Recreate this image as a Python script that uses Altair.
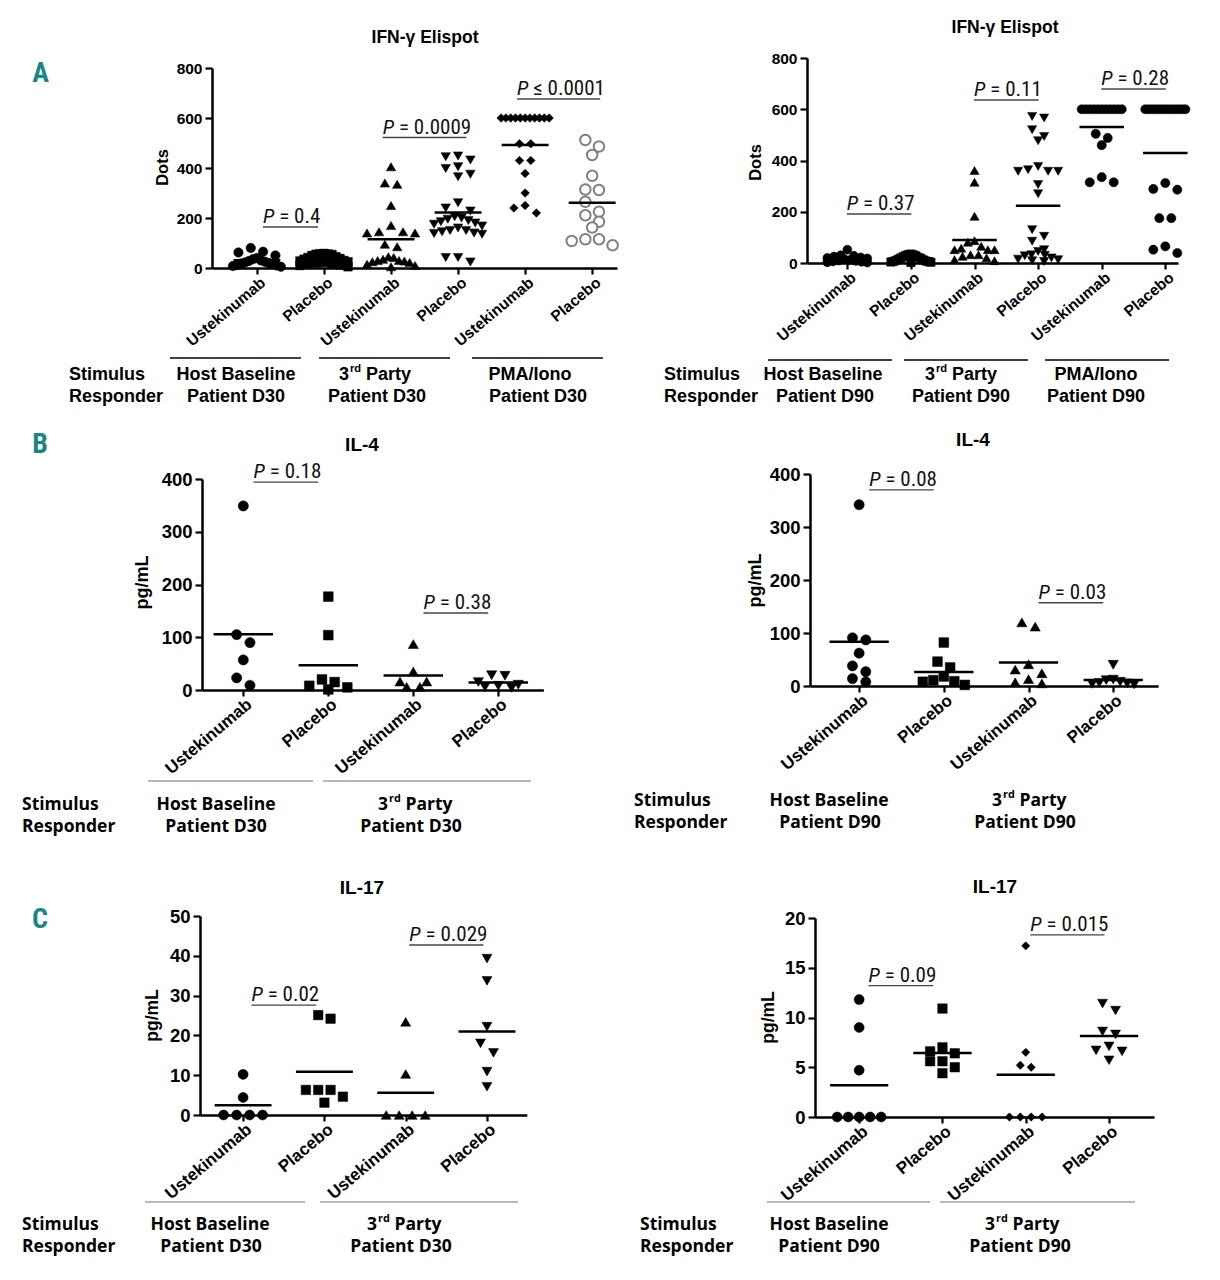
import altair as alt
import pandas as pd

# ---------------- values ----------------
ifn_categories = ["Ustekinumab", "Placebo", "Ustekinumab", "Placebo", "Ustekinumab", "Placebo"]
cyto_categories = ["Ustekinumab", "Placebo", "Ustekinumab", "Placebo"]

# A  IFN-gamma Elispot (Dots), responder Patient D30
ifn_d30_host_ust = [80, 65, 62, 50, 40, 35, 30, 28, 25, 22, 20, 18, 15, 12, 10, 8, 5]
ifn_d30_host_pla = [58, 57, 56, 55, 54, 50, 45, 42, 38, 35, 30, 28, 25, 22, 20, 18, 15, 12, 10, 5]
ifn_d30_3rd_ust = [405, 340, 335, 250, 170, 145, 145, 140, 140, 95, 85, 45, 42, 35, 30, 30, 28, 25, 22, 15, 10, 5]
ifn_d30_3rd_pla = [448, 445, 432, 405, 398, 375, 365, 261, 240, 228, 205, 200, 195, 190, 185, 180, 175,
                   168, 160, 150, 150, 145, 140, 138, 135, 42, 42, 24]
ifn_d30_pma_ust = [600, 600, 600, 600, 600, 600, 600, 600, 600, 600, 600, 497, 497, 430, 430, 378, 300, 250, 240, 220]
ifn_d30_pma_pla = [512, 486, 452, 369, 314, 312, 265, 225, 211, 185, 162, 115, 91, 108, 115]

# A  IFN-gamma Elispot (Dots), responder Patient D90
ifn_d90_host_ust = [52, 30, 28, 25, 22, 20, 18, 15, 12, 10, 8, 6, 5, 3, 2]
ifn_d90_host_pla = [35, 33, 32, 30, 28, 25, 22, 20, 18, 15, 12, 10, 8, 6, 5, 4, 3, 2]
ifn_d90_3rd_ust = [361, 315, 182, 87, 81, 65, 58, 52, 52, 52, 32, 32, 26, 20, 13, 9]
ifn_d90_3rd_pla = [572, 566, 520, 494, 477, 377, 364, 358, 358, 358, 306, 270, 130, 104, 85, 52, 45, 32, 30,
                   28, 20, 15, 13, 9, 6]
ifn_d90_pma_ust = [600, 600, 600, 600, 600, 600, 600, 600, 600, 600, 600, 504, 488, 460, 335, 315, 315]
ifn_d90_pma_pla = [600, 600, 600, 600, 600, 600, 600, 600, 600, 600, 600, 600, 312, 289, 286, 175, 175, 65, 52, 39]

# B  IL-4 (pg/mL)
il4_d30_host_ust = [349, 105, 90, 57, 23, 9]
il4_d30_host_pla = [177, 104, 20, 15, 8, 5, 1]
il4_d30_3rd_ust = [87, 35, 16, 16, 6, 6]
il4_d30_3rd_pla = [28, 27, 15, 10, 8, 6, 4]
il4_d90_host_ust = [342, 91, 87, 62, 38, 27, 14, 8]
il4_d90_host_pla = [82, 46, 35, 18, 11, 9, 8, 2]
il4_d90_3rd_ust = [120, 112, 41, 31, 24, 13, 7, 5]
il4_d90_3rd_pla = [40, 12, 11, 8, 6, 5, 4, 3]

# C  IL-17 (pg/mL)
il17_d30_host_ust = [10.2, 4.4, 0, 0, 0, 0]
il17_d30_host_pla = [25.1, 24.2, 6.3, 6.3, 6.3, 4.6, 3.1]
il17_d30_3rd_ust = [23.4, 10.3, 0, 0, 0, 0]
il17_d30_3rd_pla = [39.3, 33.7, 22.2, 18.0, 15.6, 10.9, 7.1]
il17_d90_host_ust = [11.8, 9.0, 4.7, 0, 0, 0, 0, 0]
il17_d90_host_pla = [10.9, 7.0, 6.6, 6.4, 5.6, 5.6, 5.0, 4.4]
il17_d90_3rd_ust = [17.2, 6.5, 5.2, 5.0, 0, 0, 0, 0]
il17_d90_3rd_pla = [11.4, 10.7, 8.6, 8.3, 7.1, 6.7, 6.6, 5.7]

# P values: (left group, right group, height of bar, text after "P")
p_ifn_d30 = [(1, 2, 164, "= 0.4"), (3, 4, 522, "= 0.0009"), (5, 6, 676, "≤ 0.0001")]
p_ifn_d90 = [(1, 2, 191, "= 0.37"), (3, 4, 636, "= 0.11"), (5, 6, 679, "= 0.28")]
p_il4_d30 = [(1, 2, 394, "= 0.18"), (3, 4, 146, "= 0.38")]
p_il4_d90 = [(1, 2, 370, "= 0.08"), (3, 4, 157, "= 0.03")]
p_il17_d30 = [(1, 2, 27.6, "= 0.02"), (3, 4, 42.7, "= 0.029")]
p_il17_d90 = [(1, 2, 13.2, "= 0.09"), (3, 4, 18.3, "= 0.015")]

# ---------------- styling / layout ----------------
W, H = 1204, 1264
ARIAL = "Liberation Sans, Arial, Helvetica, sans-serif"
NARROW = "Liberation Sans Narrow, Arial Narrow, Roboto Condensed, DejaVu Sans Condensed, sans-serif"
SANS2 = "Open Sans, Lato, sans-serif"
TEAL = "#1a8585"

PFS = 21
NW = {"P": .547, " ": .228, "=": .479, "≤": .449, ".": .228}
for _d in "0123456789":
    NW[_d] = .456


def tw(s):
    return sum(NW.get(c, .456) for c in s) * PFS


def swarm(values, ypx, d, maxspan):
    order = sorted(range(len(values)), key=lambda i: -values[i])
    rows, cur = [], []
    for i in order:
        if cur and (values[cur[0]] - values[i]) * ypx > 1.0 * d:
            rows.append(cur)
            cur = []
        cur.append(i)
    if cur:
        rows.append(cur)
    off = [0.0] * len(values)
    for row in rows:
        k = len(row)
        if k == 1:
            continue
        s = min(1.3 * d, maxspan / (k - 1))
        pos = [(j - (k - 1) / 2) * s for j in range(k)]
        slots = sorted(range(k), key=lambda j: (abs(pos[j]), pos[j]))
        for r, j in zip(row, slots):
            off[r] = pos[j]
    return off


FILLED = ("black", "black", 0.5)
OPEN = ("white", "#808080", 2.0)

panels = [
    dict(groups=[ifn_d30_host_ust, ifn_d30_host_pla, ifn_d30_3rd_ust, ifn_d30_3rd_pla, ifn_d30_pma_ust, ifn_d30_pma_pla],
         cats=ifn_categories,
         shapes=["circle", "square", "triangle-up", "triangle-down", "diamond", "circle"],
         styles=[FILLED, FILLED, FILLED, FILLED, FILLED, OPEN],
         sizes=[90, 75, 90, 90, 75, 110],
         x0=204, xdom=(0.33, 6.37), pxu=67.05, ybot=260, ytop=60, ydom=(0, 800),
         yticks=[0, 200, 400, 600, 800], ytitle="Dots", ytxy=(154, 159), ytfs=16.5, ylfs=15.5, xlfs=15.5,
         maxspan=48, pv=p_ifn_d30),
    dict(groups=[ifn_d90_host_ust, ifn_d90_host_pla, ifn_d90_3rd_ust, ifn_d90_3rd_pla, ifn_d90_pma_ust, ifn_d90_pma_pla],
         cats=ifn_categories,
         shapes=["circle", "square", "triangle-up", "triangle-down", "circle", "circle"],
         styles=[FILLED] * 6,
         sizes=[80, 70, 85, 85, 85, 85],
         x0=799, xdom=(0.366, 6.2), pxu=63.6, ybot=255, ytop=50, ydom=(0, 800),
         yticks=[0, 200, 400, 600, 800], ytitle="Dots", ytxy=(747, 154), ytfs=16.5, ylfs=15.5, xlfs=15.5,
         maxspan=40, pv=p_ifn_d90),
    dict(groups=[il4_d30_host_ust, il4_d30_host_pla, il4_d30_3rd_ust, il4_d30_3rd_pla],
         cats=cyto_categories,
         shapes=["circle", "square", "triangle-up", "triangle-down"],
         styles=[FILLED] * 4, sizes=[105, 95, 105, 105],
         x0=194, xdom=(0.514, 4.53), pxu=85, ybot=682, ytop=471, ydom=(0, 400),
         yticks=[0, 100, 200, 300, 400], ytitle="pg/mL", ytxy=(134, 574), ytfs=18, ylfs=18.5, xlfs=17,
         maxspan=42, pv=p_il4_d30),
    dict(groups=[il4_d90_host_ust, il4_d90_host_pla, il4_d90_3rd_ust, il4_d90_3rd_pla],
         cats=cyto_categories,
         shapes=["circle", "square", "triangle-up", "triangle-down"],
         styles=[FILLED] * 4, sizes=[105, 95, 105, 105],
         x0=802, xdom=(0.42, 4.53), pxu=84.7, ybot=678, ytop=466, ydom=(0, 400),
         yticks=[0, 100, 200, 300, 400], ytitle="pg/mL", ytxy=(747, 572), ytfs=18, ylfs=18.5, xlfs=17,
         maxspan=42, pv=p_il4_d90),
    dict(groups=[il17_d30_host_ust, il17_d30_host_pla, il17_d30_3rd_ust, il17_d30_3rd_pla],
         cats=cyto_categories,
         shapes=["circle", "square", "triangle-up", "triangle-down"],
         styles=[FILLED] * 4, sizes=[100, 90, 100, 100],
         x0=192, xdom=(0.47, 4.49), pxu=81.3, ybot=1107, ytop=908, ydom=(0, 50),
         yticks=[0, 10, 20, 30, 40, 50], ytitle="pg/mL", ytxy=(144, 1007), ytfs=17.5, ylfs=18.5, xlfs=17,
         maxspan=42, pv=p_il17_d30),
    dict(groups=[il17_d90_host_ust, il17_d90_host_pla, il17_d90_3rd_ust, il17_d90_3rd_pla],
         cats=cyto_categories,
         shapes=["circle", "square", "diamond", "triangle-down"],
         styles=[FILLED] * 4, sizes=[100, 90, 70, 100],
         x0=807, xdom=(0.47, 4.54), pxu=83.3, ybot=1109, ytop=910, ydom=(0, 20),
         yticks=[0, 5, 10, 15, 20], ytitle="pg/mL", ytxy=(760, 1009), ytfs=17.5, ylfs=18.5, xlfs=17,
         maxspan=44, pv=p_il17_d90),
]


def build_panel(p):
    x0, xd, pxu = p["x0"], p["xdom"], p["pxu"]
    x1 = x0 + (xd[1] - xd[0]) * pxu
    yb, yt, yd = p["ybot"], p["ytop"], p["ydom"]
    ypx = (yb - yt) / (yd[1] - yd[0])
    rows = []
    for gi, vals in enumerate(p["groups"]):
        fill, stroke, sw = p["styles"][gi]
        sz = p["sizes"][gi]
        offs = swarm(vals, ypx, sz ** 0.5, p["maxspan"])
        for v, o in zip(vals, offs):
            rows.append(dict(cat=gi + 1, x=gi + 1 + o / pxu, v=v, shape=p["shapes"][gi],
                             fill=fill, stroke=stroke, sw=sw, size=sz))
    df = pd.DataFrame(rows)
    n = len(p["groups"])

    def xs():
        return alt.Scale(domain=list(xd), range=[x0, x1], nice=False, zero=False)

    def ys():
        return alt.Scale(domain=list(yd), range=[yb, yt], nice=False, zero=False)

    lab = "[" + ",".join("'%s'" % c for c in p["cats"]) + "][datum.value - 1]"
    xaxis = alt.Axis(orient="bottom", offset=yb - H, values=list(range(1, n + 1)), labelExpr=lab,
                     labelAngle=320, labelAlign="right", labelBaseline="middle", labelOffset=6,
                     labelPadding=6, labelFont=ARIAL, labelFontSize=p["xlfs"], labelFontWeight="bold",
                     labelColor="black", labelFlush=False, labelOverlap=False, labelBound=False,
                     tickSize=6, tickWidth=2.2, tickColor="black", domainWidth=2.5, domainColor="black",
                     grid=False, title=None)
    tx, ty = p["ytxy"]
    yaxis = alt.Axis(orient="left", offset=-x0, values=p["yticks"], title=p["ytitle"],
                     titleX=tx - x0, titleY=ty, titleAngle=270, titleAlign="center",
                     titleBaseline="middle", titleFont=ARIAL, titleFontSize=p["ytfs"],
                     titleFontWeight="bold", titleColor="black", labelFont=ARIAL,
                     labelFontSize=p["ylfs"], labelFontWeight="bold", labelColor="black",
                     labelPadding=3, tickSize=7, tickWidth=2.2, tickColor="black", domainWidth=2.5,
                     domainColor="black", grid=False, labelFlush=False, labelOverlap=False, format="d")

    pts = alt.Chart(df).mark_point(opacity=1).encode(
        x=alt.X("x:Q", scale=xs(), axis=xaxis),
        y=alt.Y("v:Q", scale=ys(), axis=yaxis),
        shape=alt.Shape("shape:N", scale=None),
        fill=alt.Fill("fill:N", scale=None),
        stroke=alt.Stroke("stroke:N", scale=None),
        strokeWidth=alt.StrokeWidth("sw:Q", scale=None),
        size=alt.Size("size:Q", scale=None),
    )
    means = alt.Chart(df).transform_aggregate(
        m="mean(v)", groupby=["cat"]
    ).transform_calculate(
        xa="datum.cat - 0.35", xb="datum.cat + 0.35"
    ).mark_rule(color="black", strokeWidth=2.5).encode(
        x=alt.X("xa:Q", scale=xs(), axis=None), x2="xb:Q",
        y=alt.Y("m:Q", scale=ys(), axis=None),
    )
    prow = []
    for a, b, yv, rest in p["pv"]:
        mid = (a + b) / 2
        wtot = tw("P " + rest)
        xl = mid - wtot / 2 / pxu
        prow.append(dict(xl=xl, xr=xl + tw("P ") / pxu, xe=xl + wtot / pxu, yv=yv, rest=rest))
    pdf = pd.DataFrame(prow)
    pP = alt.Chart(pdf).mark_text(text="P", font=NARROW, fontStyle="italic", fontSize=PFS,
                                  align="left", baseline="alphabetic", dy=-4, color="#111").encode(
        x=alt.X("xl:Q", scale=xs(), axis=None), y=alt.Y("yv:Q", scale=ys(), axis=None))
    pR = alt.Chart(pdf).mark_text(font=NARROW, fontSize=PFS, align="left", baseline="alphabetic",
                                  dy=-4, color="#111").encode(
        x=alt.X("xr:Q", scale=xs(), axis=None), y=alt.Y("yv:Q", scale=ys(), axis=None), text="rest:N")
    pU = alt.Chart(pdf).mark_rule(color="#444", strokeWidth=1.4).encode(
        x=alt.X("xl:Q", scale=xs(), axis=None), x2="xe:Q", y=alt.Y("yv:Q", scale=ys(), axis=None))
    return [pts, means, pU, pP, pR]


# ---------------- decorations (titles, group captions) ----------------
titles = [("IFN-γ Elispot", 417, 30, 17.5), ("IFN-γ Elispot", 997, 20, 17.5),
          ("IL-4", 354, 437, 19), ("IL-4", 965, 432, 19),
          ("IL-17", 354, 880, 19), ("IL-17", 987, 879, 19)]

AF = 18
a_left = [("Stimulus", 61, 367, AF), ("Responder", 61, 389, AF),
          ("Stimulus", 656, 367, AF), ("Responder", 656, 389, AF)]
a_center = [("Host Baseline", 228, 367, AF), ("Patient D30", 228, 389, AF), ("Patient D30", 369, 389, AF),
            ("PMA/Iono", 522, 367, AF), ("Patient D30", 530, 389, AF),
            ("Host Baseline", 815, 367, AF), ("Patient D90", 817, 389, AF), ("Patient D90", 953, 389, AF),
            ("PMA/Iono", 1088, 367, AF), ("Patient D90", 1088, 389, AF)]
OF = 17.5
o_left = [("Stimulus", 14, 797, OF), ("Responder", 14, 819, OF),
          ("Stimulus", 626, 793, OF), ("Responder", 626, 815, OF),
          ("Stimulus", 14, 1217, OF), ("Responder", 14, 1239, OF),
          ("Stimulus", 632, 1217, OF), ("Responder", 632, 1239, OF)]
o_center = [("Host Baseline", 208, 797, OF), ("Patient D30", 208, 819, OF), ("Patient D30", 403, 819, OF),
            ("Host Baseline", 821, 793, OF), ("Patient D90", 822, 815, OF), ("Patient D90", 1017, 815, OF),
            ("Host Baseline", 202, 1217, OF), ("Patient D30", 203, 1239, OF), ("Patient D30", 393, 1239, OF),
            ("Host Baseline", 821, 1217, OF), ("Patient D90", 821, 1239, OF), ("Patient D90", 1012, 1239, OF)]


def third_party(cx, cy, fs, w3, wrd, wsp, wparty):
    sup = fs * 0.62
    total = w3 * fs + wrd * sup + wsp * fs + wparty * fs + 1
    left = cx - total / 2
    return [("3", left, cy, fs),
            ("rd", left + w3 * fs + 1, cy - fs * 0.32, sup),
            ("Party", left + w3 * fs + 1 + wrd * sup + wsp * fs, cy, fs)]


for cx, cy in [(367, 367), (953, 367)]:
    a_left += third_party(cx, cy, AF, .556, 1.0, .278, 2.501)
for cx, cy in [(407, 797), (1021, 793), (396, 1217), (1014, 1217)]:
    o_left += third_party(cx, cy, OF, .572, 1.1, .26, 2.66)

group_lines = [(162, 293, 350, "black", 1.5), (311, 442, 350, "black", 1.5), (464, 595, 350, "black", 1.5),
               (760, 884, 352, "black", 1.5), (896, 1020, 352, "black", 1.5), (1037, 1161, 352, "black", 1.5),
               (140, 305, 773, "#b8b8b8", 2), (315, 523, 773, "#b8b8b8", 2),
               (137, 297, 1194, "#b8b8b8", 2), (312, 510, 1194, "#b8b8b8", 2),
               (759, 922, 1194, "#b8b8b8", 2), (932, 1127, 1194, "#b8b8b8", 2)]
letters = [("A", 32.5, 65.5, 28), ("B", 32, 437, 28), ("C", 32, 912, 28)]


def text_layer(rows, font, align, color="black"):
    df = pd.DataFrame(rows, columns=["label", "px", "py", "fs"])
    return alt.Chart(df).mark_text(font=font, fontWeight="bold", align=align, baseline="middle",
                                   color=color).encode(
        x=alt.X("px:Q", scale=None, axis=None), y=alt.Y("py:Q", scale=None, axis=None),
        text="label:N", size=alt.Size("fs:Q", scale=None))


ldf = pd.DataFrame(group_lines, columns=["px", "px2", "py", "col", "w"])
lines = alt.Chart(ldf).mark_rule().encode(
    x=alt.X("px:Q", scale=None, axis=None), x2="px2:Q",
    y=alt.Y("py:Q", scale=None, axis=None),
    color=alt.Color("col:N", scale=None), strokeWidth=alt.StrokeWidth("w:Q", scale=None))

layers = []
for p in panels:
    layers += build_panel(p)
layers += [lines,
           text_layer(titles + a_center, ARIAL, "center"),
           text_layer(a_left, ARIAL, "left"),
           text_layer(o_center, SANS2, "center"),
           text_layer(o_left, SANS2, "left"),
           text_layer(letters, NARROW, "center", TEAL)]

chart = alt.layer(*layers).resolve_scale(
    x="independent", y="independent"
).resolve_axis(
    x="independent", y="independent"
).properties(
    width=W, height=H, padding=0, autosize=alt.AutoSizeParams(type="none")
).configure_view(stroke=None)

chart.save("out.html", embed_options={"renderer": "svg", "actions": False})
